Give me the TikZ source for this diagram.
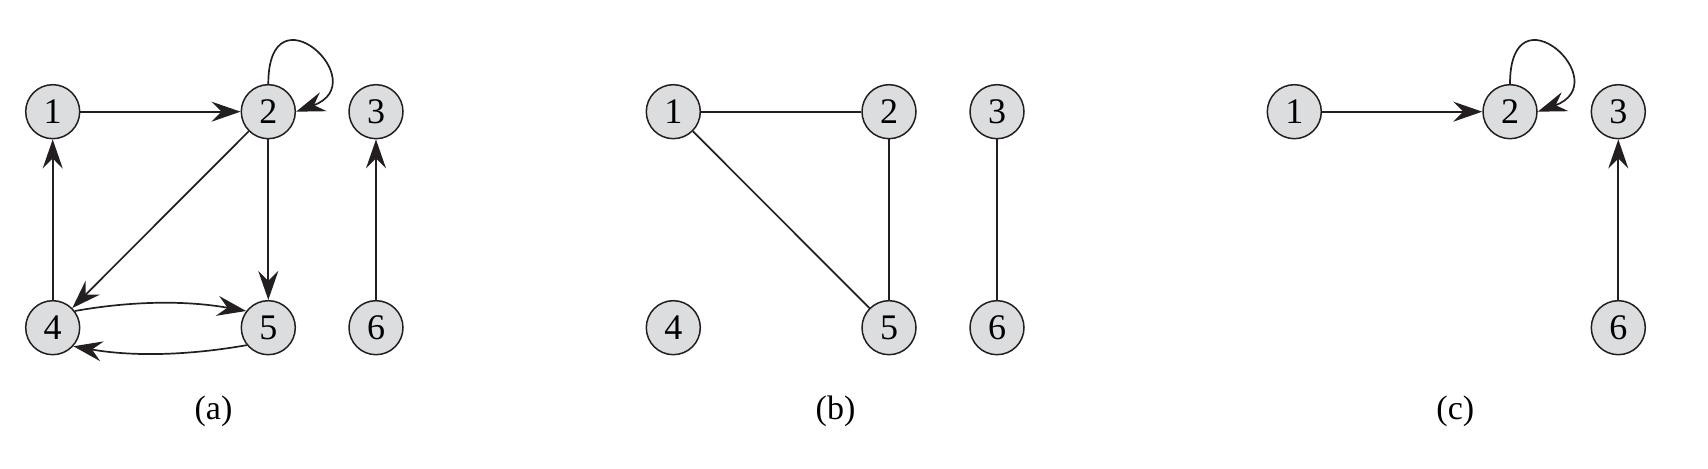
\documentclass[tikz,border=0pt]{standalone}
\usepackage{fontspec}
\setmainfont{Liberation Serif}
\usetikzlibrary{arrows.meta}
\definecolor{nodefill}{RGB}{220,221,223}
\definecolor{ink}{RGB}{35,31,32}
\tikzset{
  vert/.style={circle,draw=ink,fill=nodefill,line width=0.75pt,minimum size=27pt,inner sep=0pt,font=\fontsize{18}{18}\selectfont},
  arr/.style={draw=ink,line width=0.85pt,-{Stealth[length=14.5pt,width=10pt,inset=5pt]}},
  edge/.style={draw=ink,line width=0.85pt},
  caption/.style={font=\fontsize{17}{17}\selectfont}
}
\begin{document}
\begin{tikzpicture}[x=0.5pt,y=0.5pt]
\useasboundingbox (0,0) rectangle (1708,469);
% (a)
\node[vert] (a1) at (52.7,357.3) {1};
\node[vert] (a2) at (268.3,357.3) {2};
\node[vert] (a3) at (376,357.3) {3};
\node[vert] (a4) at (52.7,141.3) {4};
\node[vert] (a5) at (268.3,141.3) {5};
\node[vert] (a6) at (376,141.3) {6};
\draw[arr] (a1) -- (a2);
\draw[arr] (a2) -- (a4);
\draw[arr] (a2) -- (a5);
\draw[arr] (a4) -- (a1);
\draw[arr] (a6) -- (a3);
\draw[arr] (a4.37) .. controls +(10:60) and +(170:60) .. (a5.143);
\draw[arr] (a5.-141) .. controls +(190:60) and +(-10:60) .. (a4.-42);
\draw[arr] (a2.north) .. controls +(90:100) and +(20:85) .. (a2.east);
\node[caption] (la) at (213.5,57.5) {(a)};
% (b)
\node[vert] (b1) at (673.3,357.3) {1};
\node[vert] (b2) at (889,357.3) {2};
\node[vert] (b3) at (997,357.3) {3};
\node[vert] (b4) at (673.3,141.3) {4};
\node[vert] (b5) at (889,141.3) {5};
\node[vert] (b6) at (997,141.3) {6};
\draw[edge] (b1) -- (b2);
\draw[edge] (b1) -- (b5);
\draw[edge] (b2) -- (b5);
\draw[edge] (b3) -- (b6);
\node[caption] (lb) at (835.5,57.5) {(b)};
% (c)
\node[vert] (c1) at (1294.3,357.3) {1};
\node[vert] (c2) at (1510,357.3) {2};
\node[vert] (c3) at (1618.3,357.3) {3};
\node[vert] (c6) at (1618.3,141.3) {6};
\draw[arr] (c1) -- (c2);
\draw[arr] (c6) -- (c3);
\draw[arr] (c2.north) .. controls +(90:100) and +(20:85) .. (c2.east);
\node[caption] (lc) at (1455.3,57.5) {(c)};
\end{tikzpicture}
\end{document}
